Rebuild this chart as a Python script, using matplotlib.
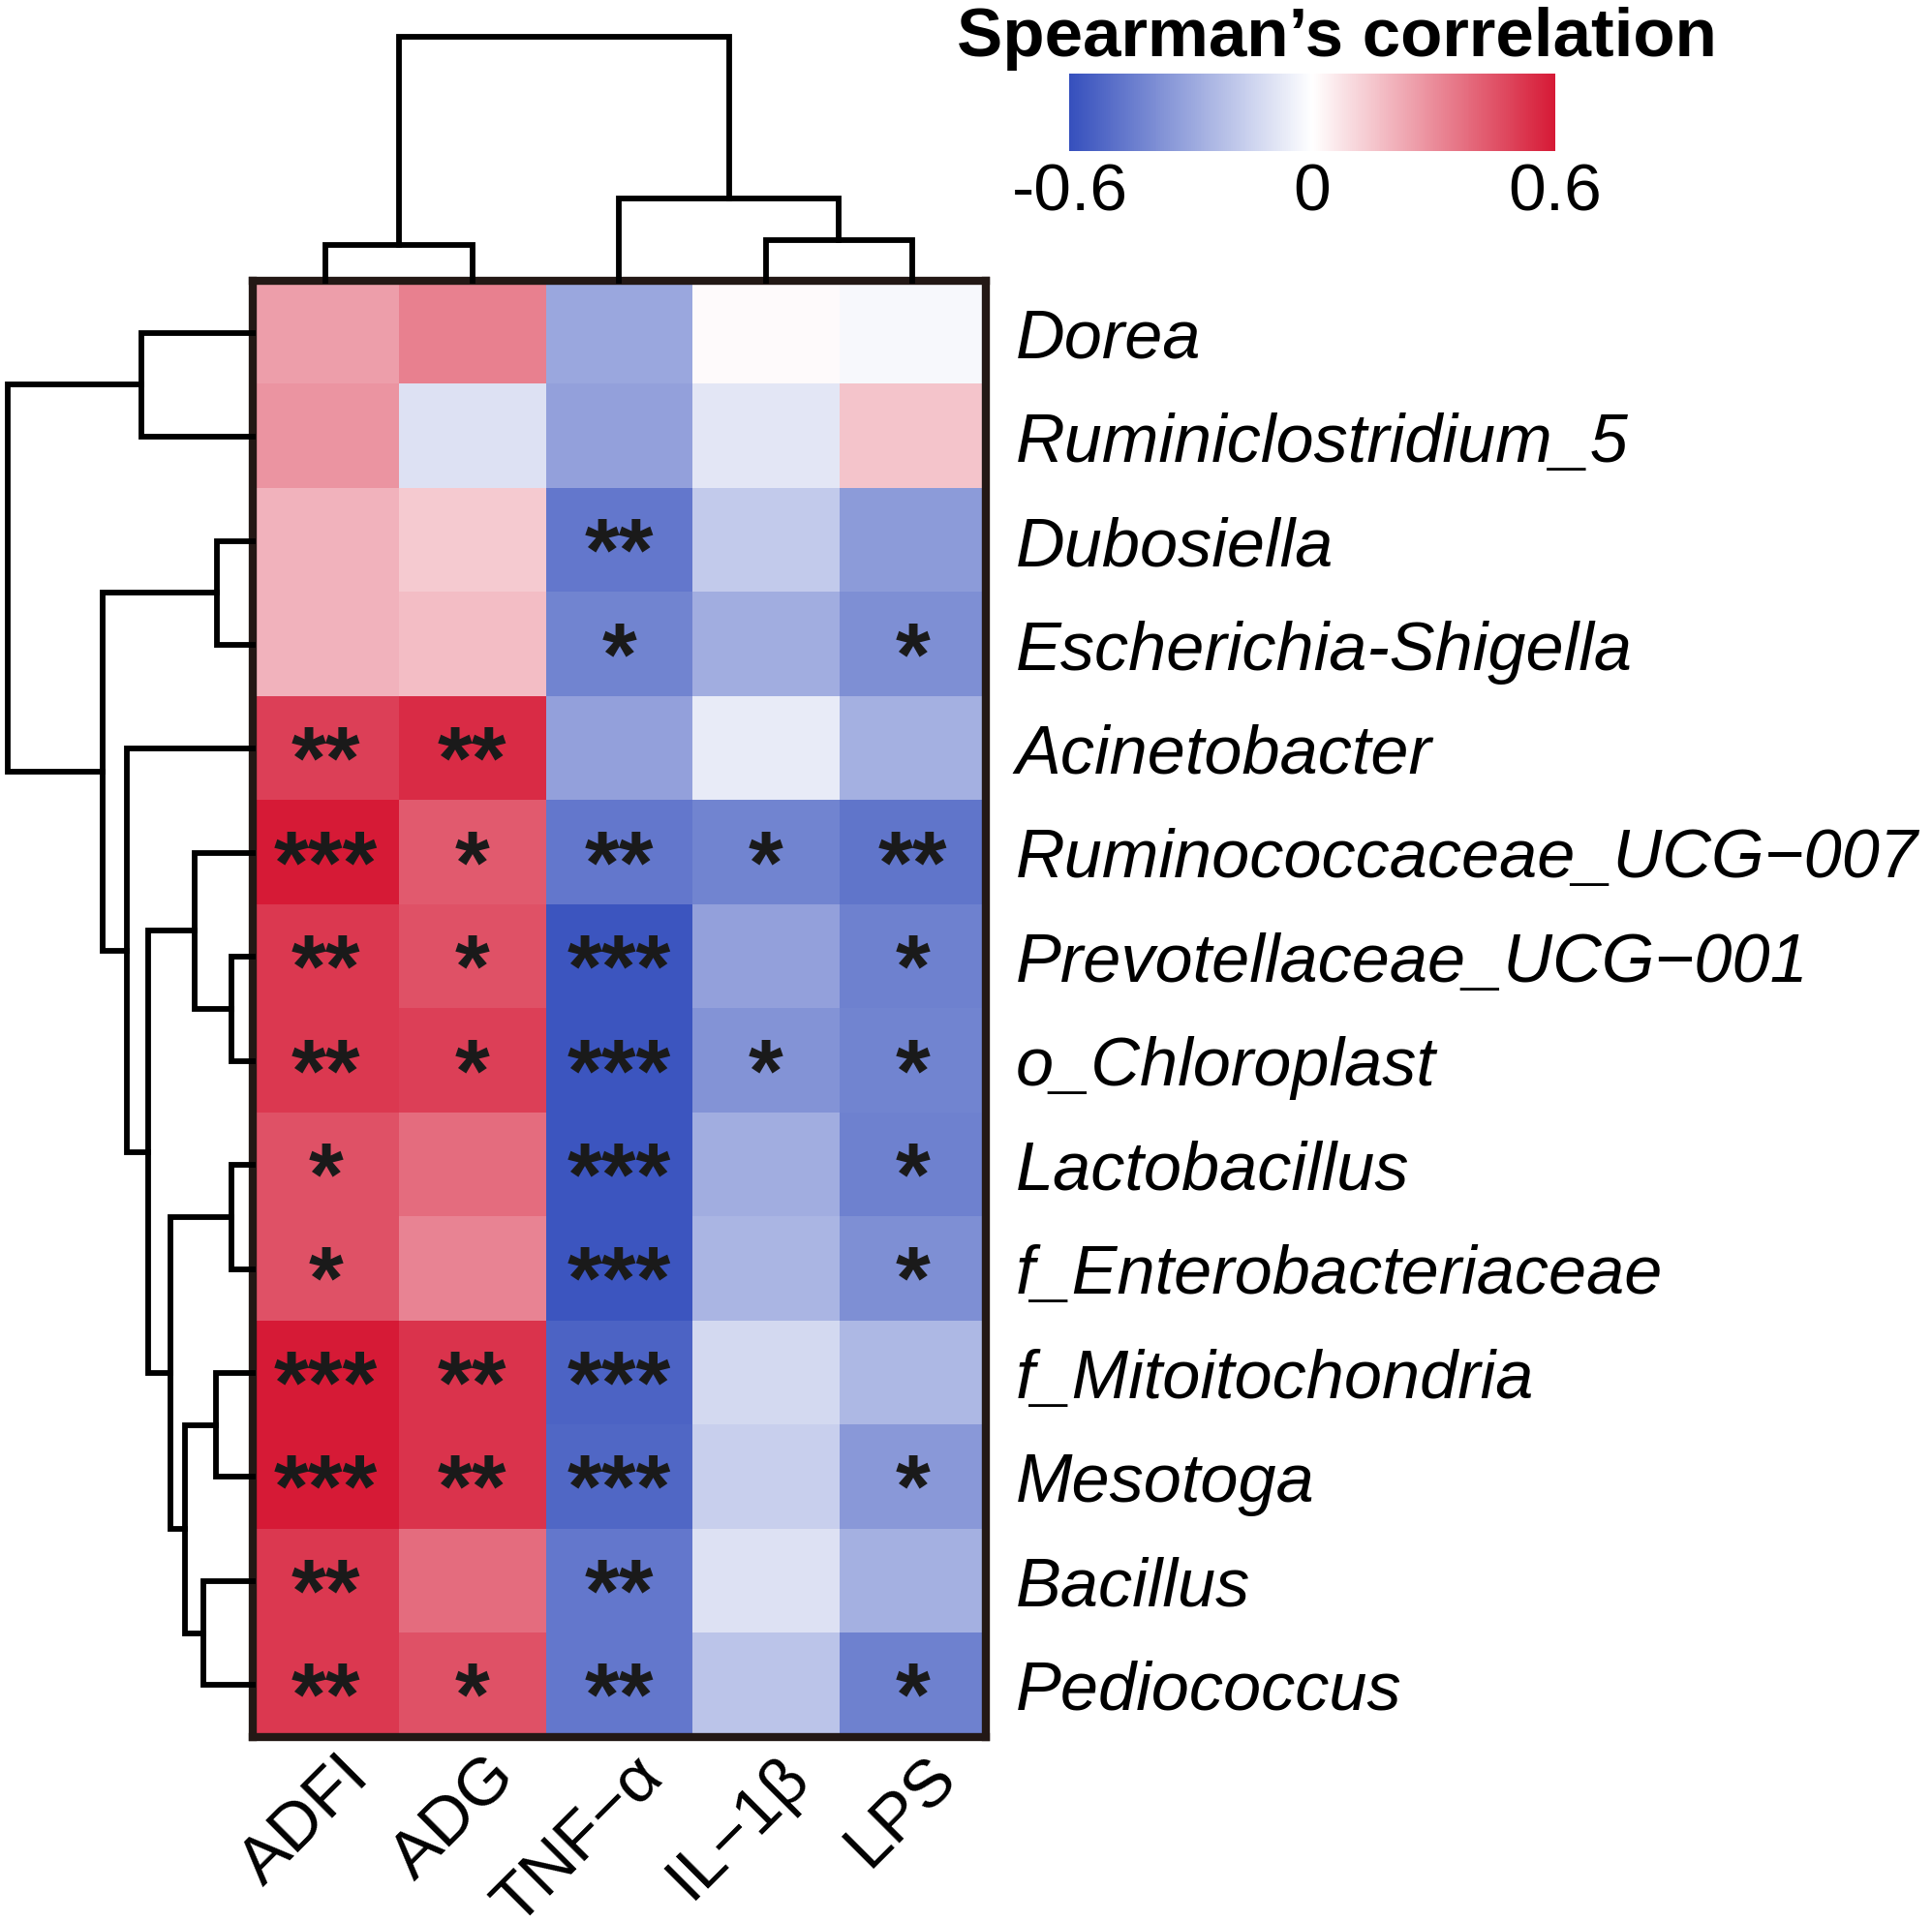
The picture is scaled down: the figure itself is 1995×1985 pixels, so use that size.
import numpy as np
import matplotlib
matplotlib.use("Agg")
import matplotlib.pyplot as plt
import matplotlib.transforms as mtransforms
from matplotlib.colors import LinearSegmentedColormap

plt.rcParams['font.family'] = ['Liberation Sans', 'DejaVu Sans']

# ---- data ----
taxa = ["Dorea", "Ruminiclostridium_5", "Dubosiella", "Escherichia-Shigella",
        "Acinetobacter", "Ruminococcaceae_UCG\u2212007", "Prevotellaceae_UCG\u2212001",
        "o_Chloroplast", "Lactobacillus", "f_Enterobacteriaceae", "f_Mitoitochondria",
        "Mesotoga", "Bacillus", "Pediococcus"]
indices = ["ADFI", "ADG", "TNF\u2212\u03b1", "IL\u22121\u03b2", "LPS"]

rho = np.array([
    [0.25, 0.33, -0.30, 0.01, -0.02],
    [0.28, -0.10, -0.32, -0.08, 0.15],
    [0.20, 0.14, -0.46, -0.18, -0.34],
    [0.20, 0.17, -0.42, -0.28, -0.38],
    [0.50, 0.55, -0.32, -0.07, -0.27],
    [0.60, 0.43, -0.46, -0.42, -0.47],
    [0.52, 0.45, -0.58, -0.32, -0.43],
    [0.52, 0.50, -0.58, -0.37, -0.42],
    [0.45, 0.38, -0.58, -0.28, -0.43],
    [0.45, 0.32, -0.58, -0.25, -0.38],
    [0.60, 0.53, -0.53, -0.13, -0.24],
    [0.60, 0.53, -0.52, -0.16, -0.35],
    [0.52, 0.38, -0.46, -0.10, -0.27],
    [0.52, 0.45, -0.46, -0.20, -0.43],
])

stars = [
    ["", "", "", "", ""],
    ["", "", "", "", ""],
    ["", "", "**", "", ""],
    ["", "", "*", "", "*"],
    ["**", "**", "", "", ""],
    ["***", "*", "**", "*", "**"],
    ["**", "*", "***", "", "*"],
    ["**", "*", "***", "*", "*"],
    ["*", "", "***", "", "*"],
    ["*", "", "***", "", "*"],
    ["***", "**", "***", "", ""],
    ["***", "**", "***", "", "*"],
    ["**", "", "**", "", ""],
    ["**", "*", "**", "", "*"],
]

# merges: (child a, child b, height); ids >= n leaves are earlier merges
row_links = [(6, 7, 17), (8, 9, 17), (2, 3, 29), (10, 11, 30), (12, 13, 40),
             (5, 14, 47), (17, 18, 55), (15, 20, 67), (19, 21, 85), (0, 1, 90),
             (4, 22, 102), (16, 24, 122), (23, 25, 199)]
col_links = [(0, 1, 29), (3, 4, 33), (2, 6, 67), (5, 7, 198)]


def dendro_segments(links, n):
    # leaf position = index + 0.5, returns list of U shapes
    pos = {i: i + 0.5 for i in range(n)}
    hgt = {i: 0.0 for i in range(n)}
    segs = []
    for k, (a, b, h) in enumerate(links):
        segs.append(([pos[a], pos[a], pos[b], pos[b]], [hgt[a], h, h, hgt[b]]))
        pos[n + k] = (pos[a] + pos[b]) / 2
        hgt[n + k] = h
    return segs


cmap = LinearSegmentedColormap.from_list(
    "spear", ["#3650BD", "#ffffff", "#D61A36"])

fig = plt.figure(figsize=(19.95, 19.85), dpi=100)

# heatmap
ax = fig.add_axes([0.1307, 0.0962, 0.3795, 0.7577])
im = ax.imshow(rho, cmap=cmap, vmin=-0.6, vmax=0.6, aspect='auto',
               extent=(0, 5, 14, 0), interpolation='nearest')
ax.set_xlim(0, 5)
ax.set_ylim(14, 0)
for i in range(len(taxa)):
    for j in range(len(indices)):
        if stars[i][j]:
            ax.text(j + 0.5, i + 0.66, stars[i][j], ha='center', va='center',
                    fontsize=66, fontweight='bold', color='#1a1a1a')

# column labels, rotated 45 degrees under each column
ax.set_xticks([])
shift = mtransforms.ScaledTranslation(0.12, -0.08, fig.dpi_scale_trans)
for j, name in enumerate(indices):
    ax.text(j + 0.5, 14, name, rotation=45, ha='right', va='top',
            rotation_mode='anchor', fontsize=50,
            transform=ax.transData + shift)

ax.set_yticks(np.arange(14) + 0.5)
ax.set_yticklabels(taxa, fontsize=50.6, style='italic')
ax.yaxis.tick_right()
ax.tick_params(length=0)
ax.tick_params(axis='y', pad=22)
for sp in ax.spines.values():
    sp.set_linewidth(6)
    sp.set_color('#231815')

# row dendrogram
axr = fig.add_axes([0.0038, 0.0962, 0.1269, 0.7577])
for xs, ys in dendro_segments(row_links, len(taxa)):
    axr.plot(ys, xs, color='black', lw=4.2, clip_on=False,
             solid_joinstyle='miter')
axr.set_ylim(14, 0)
axr.set_xlim(199, 0)
axr.axis('off')

# column dendrogram
axc = fig.add_axes([0.1307, 0.8538, 0.3795, 0.127])
for xs, ys in dendro_segments(col_links, len(indices)):
    axc.plot(xs, ys, color='black', lw=4.2, clip_on=False,
             solid_joinstyle='miter')
axc.set_xlim(0, 5)
axc.set_ylim(0, 198)
axc.axis('off')

# colour bar
cax = fig.add_axes([0.5536, 0.9212, 0.2512, 0.0404])
cb = fig.colorbar(im, cax=cax, orientation='horizontal', ticks=[-0.6, 0, 0.6])
cb.ax.set_xticklabels(["-0.6", "0", "0.6"], fontsize=50)
cb.ax.tick_params(length=0, pad=8)
cb.outline.set_visible(False)
fig.text(0.692, 0.971, "Spearman\u2019s correlation", ha='center', va='baseline',
         fontsize=51, fontweight='bold')

fig.savefig("out.png", dpi=100)
